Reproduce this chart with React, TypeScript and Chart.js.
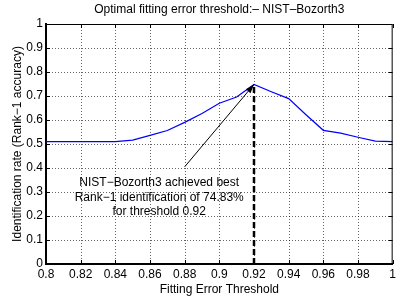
import React, { useEffect, useRef } from "react";
import { Chart, registerables } from "chart.js";

Chart.register(...registerables);

const thresholds = [0.8, 0.81, 0.82, 0.83, 0.84, 0.85, 0.86, 0.87, 0.88, 0.89, 0.9, 0.91, 0.92, 0.93, 0.94, 0.95, 0.96, 0.97, 0.98, 0.99, 1.0];
const identificationRate = [0.51, 0.51, 0.51, 0.51, 0.51, 0.516, 0.536, 0.556, 0.59, 0.627, 0.67, 0.696, 0.7483, 0.718, 0.689, 0.622, 0.557, 0.545, 0.528, 0.512, 0.51];
const peakThreshold = 0.92;
const peakRate = 0.7483;
const arrowTail = [0.88, 0.405];
const annotationAnchor = [0.8653, 0.278];
const annotationLines = [
  "NIST\u2212Bozorth3 achieved best",
  "Rank\u22121 identification of 74.83%",
  "for threshold 0.92",
];
const titleText = "Optimal fitting error threshold:\u2013 NIST\u2013Bozorth3";
const xTitle = "Fitting Error Threshold";
const yTitle = "Identification rate (Rank\u22121 accuracy)";

const FONT = "'Liberation Sans', Arial, Helvetica, sans-serif";

const fmt = (v: number) => String(parseFloat(Number(v).toFixed(2)));

const gridPlugin = {
  id: "dotgrid",
  beforeDatasetsDraw(chart: any) {
    const { ctx, chartArea, scales } = chart;
    const xs = scales.x;
    const ys = scales.y;
    ctx.save();
    ctx.strokeStyle = "rgba(0,0,0,0.6)";
    ctx.lineWidth = 1;
    ctx.setLineDash([1, 2]);
    ctx.beginPath();
    xs.ticks.forEach((t: any) => {
      const px = Math.round(xs.getPixelForValue(t.value)) + 0.5;
      if (px < chartArea.left + 2 || px > chartArea.right - 2) return;
      ctx.moveTo(px, chartArea.top);
      ctx.lineTo(px, chartArea.bottom);
    });
    ys.ticks.forEach((t: any) => {
      const py = Math.round(ys.getPixelForValue(t.value)) + 0.5;
      if (py < chartArea.top + 2 || py > chartArea.bottom - 2) return;
      ctx.moveTo(chartArea.left, py);
      ctx.lineTo(chartArea.right, py);
    });
    ctx.stroke();
    ctx.restore();
  },
};

const decorPlugin = {
  id: "decor",
  afterDatasetsDraw(chart: any) {
    const { ctx, chartArea, scales } = chart;
    const xs = scales.x;
    const ys = scales.y;
    ctx.save();
    ctx.strokeStyle = "#000";
    ctx.lineWidth = 1;
    ctx.beginPath();
    ctx.moveTo(chartArea.left, chartArea.top + 0.5);
    ctx.lineTo(chartArea.right - 0.5, chartArea.top + 0.5);
    ctx.lineTo(chartArea.right - 0.5, chartArea.bottom);
    ctx.stroke();
    const tl = 4;
    ctx.beginPath();
    xs.ticks.forEach((t: any) => {
      const px = Math.round(xs.getPixelForValue(t.value)) + 0.5;
      ctx.moveTo(px, chartArea.bottom);
      ctx.lineTo(px, chartArea.bottom - tl);
      ctx.moveTo(px, chartArea.top);
      ctx.lineTo(px, chartArea.top + tl);
    });
    ys.ticks.forEach((t: any) => {
      const py = Math.round(ys.getPixelForValue(t.value)) + 0.5;
      ctx.moveTo(chartArea.left, py);
      ctx.lineTo(chartArea.left + tl, py);
      ctx.moveTo(chartArea.right, py);
      ctx.lineTo(chartArea.right - tl, py);
    });
    ctx.stroke();

    const x0 = xs.getPixelForValue(arrowTail[0]);
    const y0 = ys.getPixelForValue(arrowTail[1]);
    const x1 = xs.getPixelForValue(peakThreshold);
    const y1 = ys.getPixelForValue(peakRate);
    ctx.lineWidth = 1;
    ctx.beginPath();
    ctx.moveTo(x0, y0);
    ctx.lineTo(x1, y1);
    ctx.stroke();
    const ang = Math.atan2(y1 - y0, x1 - x0);
    const hl = 9;
    const hw = 3;
    ctx.fillStyle = "#000";
    ctx.beginPath();
    ctx.moveTo(x1, y1);
    ctx.lineTo(x1 - hl * Math.cos(ang) + hw * Math.sin(ang), y1 - hl * Math.sin(ang) - hw * Math.cos(ang));
    ctx.lineTo(x1 - hl * Math.cos(ang) - hw * Math.sin(ang), y1 - hl * Math.sin(ang) + hw * Math.cos(ang));
    ctx.closePath();
    ctx.fill();

    ctx.font = `12px ${FONT}`;
    ctx.textAlign = "center";
    ctx.textBaseline = "middle";
    const ax = xs.getPixelForValue(annotationAnchor[0]);
    const ay = ys.getPixelForValue(annotationAnchor[1]);
    annotationLines.forEach((line, i) => {
      ctx.fillText(line, ax, ay + (i - 1) * 14.2);
    });

    ctx.fillText(titleText, (chartArea.left + chartArea.right) / 2, 10);
    ctx.restore();
  },
};

export default function App() {
  const ref = useRef<HTMLCanvasElement | null>(null);
  useEffect(() => {
    document.body.style.margin = "0";
    const canvas = ref.current!;
    const chart = new Chart(canvas, {
      type: "line",
      data: {
        datasets: [
          {
            data: thresholds.map((t, i) => ({ x: t, y: identificationRate[i] })),
            borderColor: "#0000ff",
            borderWidth: 1.2,
            pointRadius: 0,
            tension: 0,
          },
          {
            data: [
              { x: peakThreshold, y: 0 },
              { x: peakThreshold, y: peakRate },
            ],
            borderColor: "#000",
            borderWidth: 2.5,
            borderDash: [6, 3],
            pointRadius: 0,
          },
        ],
      },
      options: {
        animation: false,
        responsive: false,
        devicePixelRatio: 1,
        layout: { padding: { left: 0, right: 2, top: 24, bottom: 0 } },
        plugins: {
          legend: { display: false },
          tooltip: { enabled: false },
          title: { display: false },
        },
        scales: {
          x: {
            type: "linear",
            min: 0.8,
            max: 1,
            afterFit: (s: any) => {
              s.height = 34;
            },
            ticks: {
              stepSize: 0.02,
              color: "#000",
              padding: 3,
              font: { family: FONT, size: 12 },
              callback: (v: any) => fmt(v),
              maxRotation: 0,
              autoSkip: false,
            },
            grid: { display: true, drawOnChartArea: false, drawTicks: false },
            border: { color: "#000", width: 2 },
            title: {
              display: true,
              text: xTitle,
              color: "#000",
              font: { family: FONT, size: 12 },
              padding: { top: 0, bottom: 1 },
            },
          },
          y: {
            min: 0,
            max: 1,
            afterFit: (s: any) => {
              s.width = 46;
            },
            ticks: {
              stepSize: 0.1,
              color: "#000",
              padding: 3,
              font: { family: FONT, size: 12 },
              callback: (v: any) => fmt(v),
            },
            grid: { display: true, drawOnChartArea: false, drawTicks: false },
            border: { color: "#000", width: 2 },
            title: {
              display: true,
              text: yTitle,
              color: "#000",
              font: { family: FONT, size: 12 },
              padding: { top: 10, bottom: 0 },
            },
          },
        },
      },
      plugins: [gridPlugin, decorPlugin],
    } as any);
    return () => chart.destroy();
  }, []);
  return (
    <div style={{ position: "fixed", left: 0, top: 0, width: 399, height: 298, background: "#fff" }}>
      <canvas ref={ref} width={399} height={298} style={{ width: 399, height: 298, display: "block" }} />
    </div>
  );
}
